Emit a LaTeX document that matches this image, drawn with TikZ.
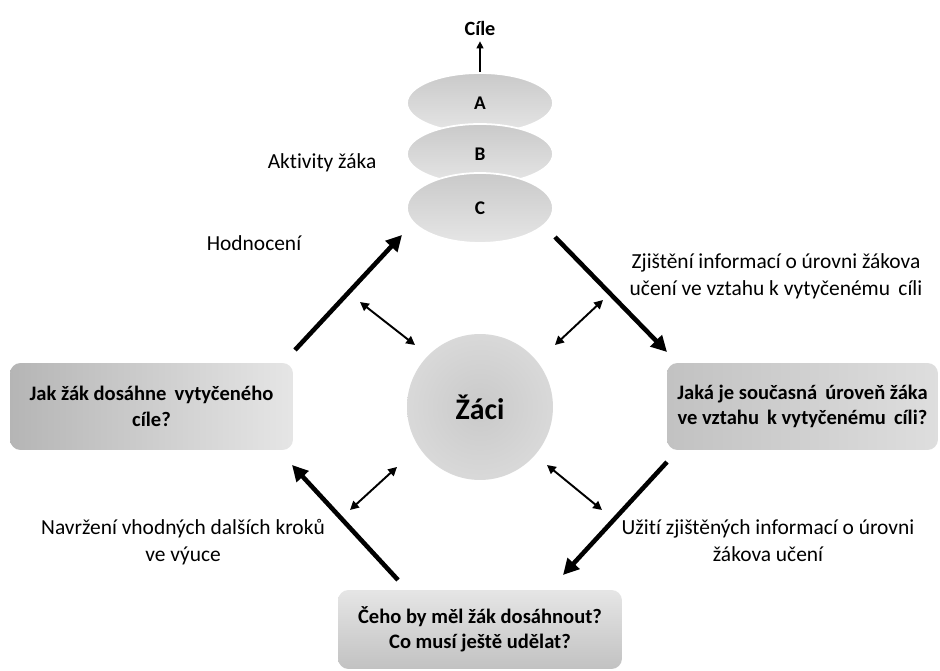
\documentclass[tikz,border=0pt]{standalone}
\usepackage{fontspec}
\setmainfont{Carlito}[Ligatures = NoCommon]
\usetikzlibrary{shapes.geometric,arrows.meta}

\begin{document}
\begin{tikzpicture}[
    x = 0.02cm, y = -0.02cm,
    every node/.style = {font = \fontsize{12.2}{15.4}\selectfont},
    layer/.style = {ellipse, draw = white, line width = 1pt,
        minimum width = 2.92cm, minimum height = 1.2cm,
        top color = gray!42, bottom color = gray!20,
        font = \fontsize{11}{13}\selectfont\bfseries},
    question/.style = {rounded corners = 6pt, align = center,
        font = \fontsize{11.7}{14.5}\selectfont\bfseries},
    txt/.style = {align = center},
    flow/.style = {line width = 2.6pt, -{Triangle[length=9pt, width=9pt]}},
    link/.style = {line width = 1.1pt,
        {Triangle[length=5pt, width=5pt]}-{Triangle[length=5pt, width=5pt]}}]

\useasboundingbox (0,0) rectangle (940,671);

% goals and activities
\node[font = \fontsize{11.5}{13}\selectfont\bfseries] (goal) at (480,28) {Cíle};
\node[layer] (A) at (480,103) {A};
\node[layer] (B) at (480,154) {B};
\node[layer, minimum height = 1.4cm] (C) at (480,208) {C};
\draw[line width = 0.7pt, -{Triangle[length=4pt, width=4pt]}] (A.north) -- (goal.south);

% pupils
\node[circle, minimum size = 2.92cm, inner color = gray!42, outer color = gray!30,
      font = \fontsize{17}{20}\selectfont\bfseries] (pupils) at (480,407) {Žáci};

% questions
\node[question, minimum width = 5.66cm, minimum height = 1.74cm,
      left color = gray!58, right color = gray!20] (how) at (151.5,406.5)
      {Jak žák dosáhne\, vytyčeného\\cíle?};
\node[question, minimum width = 5.42cm, minimum height = 1.74cm,
      left color = gray!48, right color = gray!26] (level) at (802.5,406.5)
      {Jaká je současná\, úroveň žáka\\ve vztahu\, k vytyčenému\, cíli?};
\node[question, minimum width = 5.68cm, minimum height = 1.58cm,
      top color = gray!20, bottom color = gray!48] (what) at (480,629.5)
      {Čeho by měl žák dosáhnout?\\Co musí ještě udělat?};

% labels
\node[txt] (act) at (322,163) {Aktivity žáka};
\node[txt] (eval) at (254,243) {Hodnocení};
\node[txt] (find) at (776,276.5) {Zjištění informací o úrovni žákova\\učení ve vztahu k vytyčenému\, cíli};
\node[txt] (next) at (183,542) {Navržení vhodných dalších kroků\\ve výuce};
\node[txt] (use) at (768,540.5) {Užití zjištěných informací o úrovni\\žákova učení};

% cycle arrows
\coordinate (f1s) at (295,350); \coordinate (f1e) at (402,235);
\coordinate (f2s) at (555,237); \coordinate (f2e) at (667,352);
\coordinate (f3s) at (667,462); \coordinate (f3e) at (563,575);
\coordinate (f4s) at (398,580); \coordinate (f4e) at (292,465);
\draw[flow] (f1s) -- (f1e);
\draw[flow] (f2s) -- (f2e);
\draw[flow] (f3s) -- (f3e);
\draw[flow] (f4s) -- (f4e);

% links to pupils
\coordinate (l1s) at (360,302); \coordinate (l1e) at (415,345);
\coordinate (l2s) at (603,300); \coordinate (l2e) at (555,345);
\coordinate (l3s) at (397,467); \coordinate (l3e) at (350,510);
\coordinate (l4s) at (547,465); \coordinate (l4e) at (602,510);
\draw[link] (l1s) -- (l1e);
\draw[link] (l2s) -- (l2e);
\draw[link] (l3s) -- (l3e);
\draw[link] (l4s) -- (l4e);
\end{tikzpicture}
\end{document}
